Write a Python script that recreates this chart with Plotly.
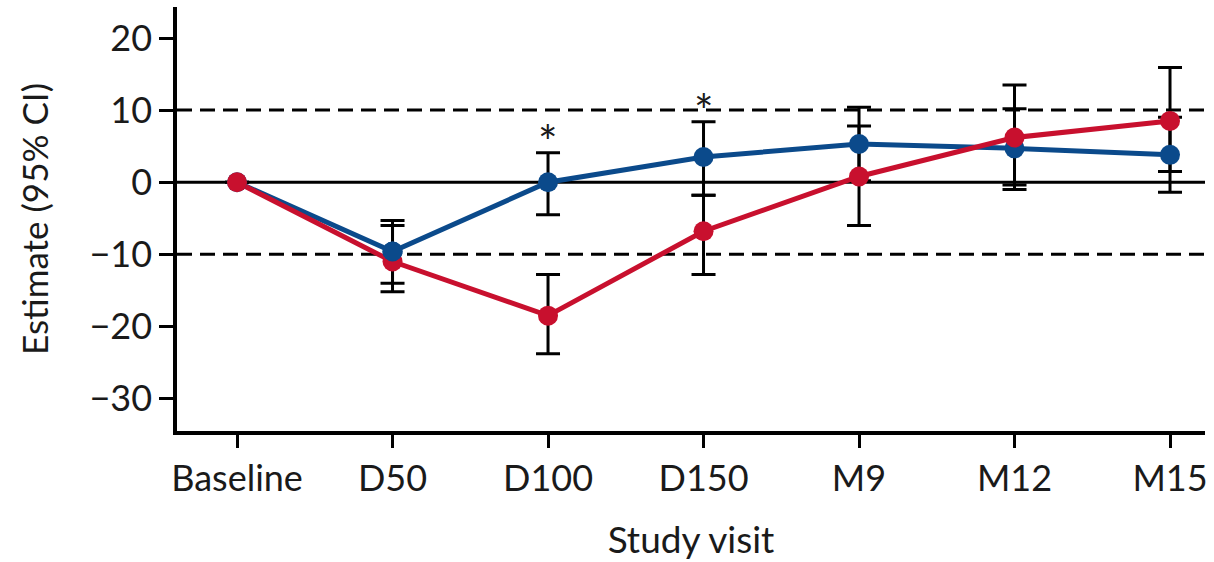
import plotly.graph_objects as go

# ---- data ----
visits = ["Baseline", "D50", "D100", "D150", "M9", "M12", "M15"]

blue_est = [0.0, -9.6, 0.0, 3.5, 5.3, 4.7, 3.8]
blue_lo = [None, -14.0, -4.5, -1.8, 0.2, -0.4, -1.4]
blue_hi = [None, -5.3, 4.1, 8.4, 10.4, 10.2, 9.0]

red_est = [0.0, -11.0, -18.5, -6.8, 0.8, 6.2, 8.5]
red_lo = [None, -15.2, -23.8, -12.8, -6.0, -1.0, 1.5]
red_hi = [None, -6.0, -12.8, -1.8, 7.8, 13.5, 15.9]

sig_visits = ["D100", "D150"]
sig_y = [5.6, 10.0]

y_ticks = [-30, -20, -10, 0, 10, 20]
ref_lines = [-10, 10]

BLUE = "#0b4a8b"
RED = "#c8102e"
FONT = "Lato"


def err(est, lo, hi):
    plus = [None if h is None else h - e for e, h in zip(est, hi)]
    minus = [None if l is None else e - l for e, l in zip(est, lo)]
    return plus, minus


fig = go.Figure()

for est, lo, hi in [(blue_est, blue_lo, blue_hi), (red_est, red_lo, red_hi)]:
    p, m = err(est, lo, hi)
    fig.add_trace(go.Scatter(
        x=visits, y=est, mode="markers",
        marker=dict(size=2, color="rgba(0,0,0,0)"),
        error_y=dict(type="data", array=p, arrayminus=m, symmetric=False,
                     color="black", thickness=3, width=12),
        hoverinfo="skip", showlegend=False))

fig.add_trace(go.Scatter(x=visits, y=blue_est, mode="lines",
                         line=dict(color=BLUE, width=5), showlegend=False))
fig.add_trace(go.Scatter(x=visits, y=red_est, mode="lines",
                         line=dict(color=RED, width=5), showlegend=False))
fig.add_trace(go.Scatter(x=visits, y=blue_est, mode="markers",
                         marker=dict(color=BLUE, size=20), showlegend=False))
fig.add_trace(go.Scatter(x=visits, y=red_est, mode="markers",
                         marker=dict(color=RED, size=20), showlegend=False))
# blue marker sits on top at D50
fig.add_trace(go.Scatter(x=[visits[1]], y=[blue_est[1]], mode="markers",
                         marker=dict(color=BLUE, size=20), showlegend=False))

for v, yv in zip(sig_visits, sig_y):
    fig.add_annotation(x=v, y=yv, text="*", showarrow=False,
                       font=dict(family=FONT, size=46, color="#1a1a1a"),
                       xanchor="center", yanchor="middle")

shapes = [dict(type="line", xref="paper", x0=0, x1=1, yref="y", y0=0, y1=0,
               line=dict(color="black", width=3), layer="below")]
for r in ref_lines:
    shapes.append(dict(type="line", xref="paper", x0=0, x1=1, yref="y", y0=r, y1=r,
                       line=dict(color="black", width=3, dash="15px,8px"), layer="below"))

fig.update_layout(
    width=1214, height=562,
    margin=dict(l=177, r=9, t=7, b=131),
    paper_bgcolor="white", plot_bgcolor="white",
    font=dict(family=FONT, size=36, color="#1a1a1a"),
    showlegend=False, hovermode=False,
    shapes=shapes,
)
fig.update_xaxes(
    type="category", range=[-0.386, 6.225],
    showline=True, linecolor="black", linewidth=3.5,
    ticks="outside", ticklen=13, tickwidth=3, tickcolor="black",
    showgrid=False, zeroline=False,
    tickfont=dict(family=FONT, size=36),
    title=dict(text="Study visit", font=dict(family=FONT, size=37), standoff=30),
    automargin=False,
)
fig.update_yaxes(
    range=[-34.5, 24.3], tickvals=y_ticks,
    showline=True, linecolor="black", linewidth=3.5,
    ticks="outside", ticklen=14, tickwidth=3, tickcolor="black",
    showgrid=False, zeroline=False,
    tickfont=dict(family=FONT, size=36),
    title=dict(text="Estimate (95% CI)", font=dict(family=FONT, size=35), standoff=31),
    automargin=False,
)

fig.write_html("out.html", config={"displayModeBar": False})
